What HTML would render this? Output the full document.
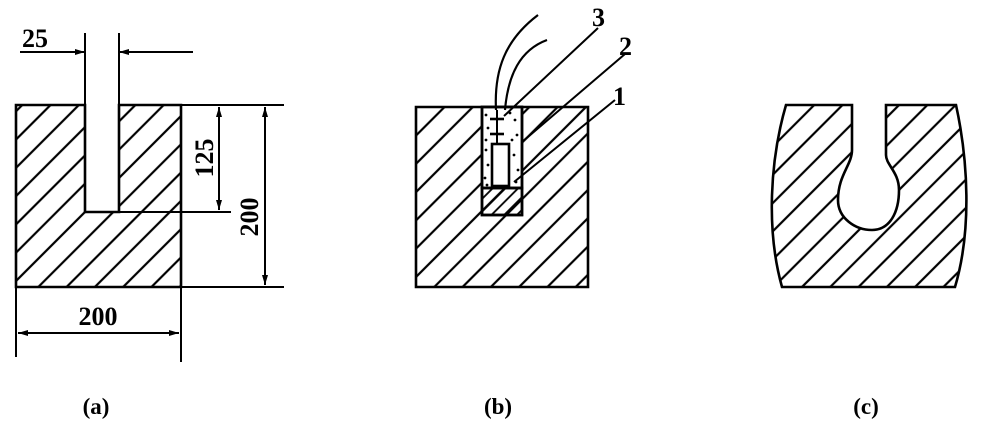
<!DOCTYPE html>
<html><head><meta charset="utf-8"><style>body{margin:0;background:#fff}svg{display:block}</style></head><body>
<svg width="984" height="430" viewBox="0 0 984 430" xmlns="http://www.w3.org/2000/svg" font-family="Liberation Serif, serif" font-weight="bold">
<defs>
<pattern id="h" patternUnits="userSpaceOnUse" width="20" height="20" patternTransform="rotate(45)">
<line x1="10" y1="-1" x2="10" y2="21" stroke="#000" stroke-width="2.2"/>
</pattern>
<pattern id="h2" patternUnits="userSpaceOnUse" width="9" height="9" patternTransform="rotate(45)">
<line x1="4.5" y1="-1" x2="4.5" y2="10" stroke="#000" stroke-width="1.8"/>
</pattern>
<marker id="a" viewBox="0 0 10 6" refX="10" refY="3" markerWidth="14" markerHeight="6" orient="auto-start-reverse" markerUnits="userSpaceOnUse"><path d="M0,0L10,3L0,6z" fill="#000"/></marker>
</defs>
<g stroke="#000" fill="none" stroke-width="2.6">
<!-- (a) -->
<path d="M16,105H85V212H119V105H181V287H16Z" fill="url(#h)"/>
<line x1="85" y1="33" x2="85" y2="212" stroke-width="2"/><line x1="119" y1="33" x2="119" y2="212" stroke-width="2"/>
<line x1="26" y1="52" x2="85" y2="52" marker-end="url(#a)" stroke-width="2"/>
<line x1="193" y1="52" x2="119" y2="52" marker-end="url(#a)" stroke-width="2"/>
<line x1="20" y1="52" x2="55" y2="52" stroke-width="2"/>
<line x1="181" y1="105" x2="284" y2="105" stroke-width="2"/>
<line x1="119" y1="212" x2="231" y2="212" stroke-width="2"/>
<line x1="181" y1="287" x2="284" y2="287" stroke-width="2"/>
<line x1="219" y1="107" x2="219" y2="210" marker-start="url(#a)" marker-end="url(#a)" stroke-width="2"/>
<line x1="265" y1="107" x2="265" y2="285" marker-start="url(#a)" marker-end="url(#a)" stroke-width="2"/>
<line x1="16" y1="287" x2="16" y2="357" stroke-width="2"/>
<line x1="181" y1="287" x2="181" y2="362" stroke-width="2"/>
<line x1="18" y1="333" x2="179" y2="333" marker-start="url(#a)" marker-end="url(#a)" stroke-width="2"/>
<!-- (b) -->
<path d="M416,107H588V287H416Z" fill="url(#h)"/>
<rect x="482" y="107" width="40" height="81" fill="#fff"/>
<rect x="482" y="188" width="40" height="27" fill="url(#h2)"/>
<rect x="482" y="107" width="40" height="108"/>
<line x1="482" y1="188" x2="522" y2="188"/>
<rect x="492" y="144" width="17" height="42" fill="#fff"/>
<path d="M496,110C494,70 505,40 538,15" stroke-width="2.2"/>
<path d="M505,110C508,75 520,50 547,40" stroke-width="2.2"/>
<line x1="490" y1="119" x2="504" y2="119"/><line x1="490" y1="134" x2="504" y2="134"/>
<line x1="497" y1="110" x2="497" y2="144" stroke-width="2"/>
<line x1="598" y1="28" x2="504" y2="116" stroke-width="2"/>
<line x1="625" y1="54" x2="522" y2="142" stroke-width="2"/>
<line x1="615" y1="100" x2="514" y2="182" stroke-width="2"/>
<!-- (c) -->
<path d="M786,105H852V150C852,165 838,175 838,200C838,218 855,230 872,230C890,230 899,212 899,190C899,172 886,165 886,155V105H956C968,160 972,230 955,287H782C766,230 770,160 786,105Z" fill="url(#h)"/>
</g>
<g fill="#000" stroke="none">
<circle cx="486" cy="115" r="1.4"/><circle cx="488" cy="128" r="1.4"/><circle cx="486" cy="150" r="1.4"/><circle cx="488" cy="165" r="1.4"/><circle cx="485" cy="178" r="1.4"/><circle cx="515" cy="120" r="1.4"/><circle cx="517" cy="135" r="1.4"/><circle cx="514" cy="155" r="1.4"/><circle cx="518" cy="170" r="1.4"/><circle cx="512" cy="140" r="1.4"/><circle cx="510" cy="113" r="1.4"/><circle cx="486" cy="140" r="1.4"/><circle cx="516" cy="182" r="1.4"/><circle cx="487" cy="185" r="1.4"/>
</g>
<g fill="#000" font-size="26">
<text x="22" y="47">25</text>
<text x="98" y="325" text-anchor="middle">200</text>
<text transform="translate(213,158) rotate(-90)" text-anchor="middle">125</text>
<text transform="translate(258,217) rotate(-90)" text-anchor="middle">200</text>
<text x="592" y="26">3</text><text x="619" y="55">2</text><text x="613" y="105">1</text>
<text x="96" y="414" text-anchor="middle" font-size="23">(a)</text>
<text x="498" y="414" text-anchor="middle" font-size="23">(b)</text>
<text x="866" y="414" text-anchor="middle" font-size="23">(c)</text>
</g>
</svg>
</body></html>
